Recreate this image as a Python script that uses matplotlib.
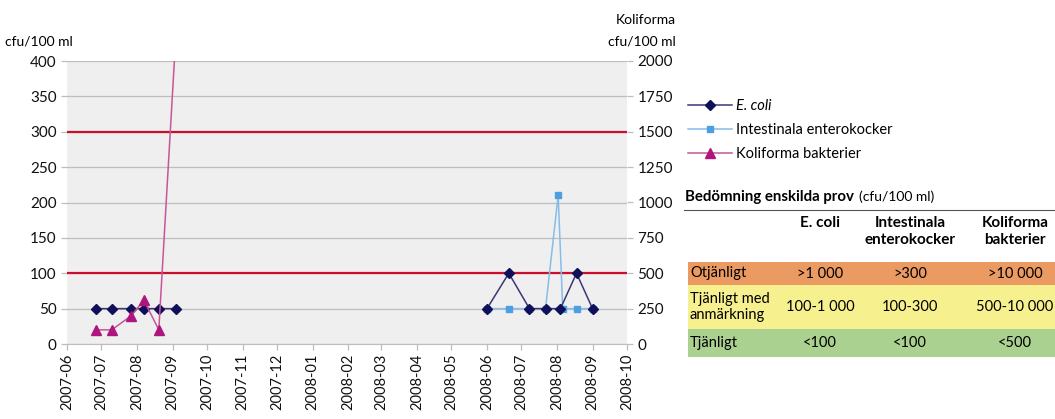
import datetime as dt
import numpy as np
import matplotlib
matplotlib.use("Agg")
from matplotlib import pyplot as plt
import matplotlib.dates as mdates
from matplotlib.patches import Rectangle
from matplotlib.text import Annotation

plt.rcParams['font.family'] = ['Lato', 'DejaVu Sans']

nan = float("nan")

# E. coli (left axis, cfu/100 ml); nan = no samples over the winter, breaks the line
ecoli_dates = ["2007-06-26", "2007-07-10", "2007-07-27", "2007-08-07", "2007-08-20", "2007-09-04",
               "2008-01-01",
               "2008-06-01", "2008-06-20", "2008-07-08", "2008-07-22", "2008-08-04", "2008-08-18", "2008-09-01"]
ecoli_vals = [50, 50, 50, 50, 50, 50,
              nan,
              50, 100, 50, 50, 50, 100, 50]

# Intestinala enterokocker (left axis)
ente_dates = ["2008-06-01", "2008-06-20", "2008-07-08", "2008-07-22", "2008-08-02", "2008-08-06",
              "2008-08-18", "2008-09-01"]
ente_vals = [50, 50, 50, 50, 210, 50, 50, 50]

# Koliforma bakterier (right axis)
koli_dates = ["2007-06-26", "2007-07-10", "2007-07-27", "2007-08-07", "2007-08-20", "2007-09-04"]
koli_vals = [100, 100, 200, 310, 100, 2200]

# limit lines (left axis)
limits = [100, 300]

# table
table_cols = ["E. coli", "Intestinala\nenterokocker", "Koliforma\nbakterier"]
table_rows = ["Otjänligt", "Tjänligt med\nanmärkning", "Tjänligt"]
table_vals = [[">1 000", ">300", ">10 000"],
              ["100-1 000", "100-300", "500-10 000"],
              ["<100", "<100", "<500"]]
row_colors = ["#EB9A62", "#F7F08E", "#AAD18F"]


def to_dates(lst):
    return [dt.datetime.strptime(s, "%Y-%m-%d") for s in lst]


W, H = 1055, 419
fig = plt.figure(figsize=(W / 100, H / 100), dpi=100)
ax = fig.add_axes([67 / W, 1 - 344 / H, 560 / W, 283 / H])
ax2 = ax.twinx()

ax.set_facecolor("#EFEFEF")
grey = "#BEBEBE"

for lim in limits:
    ax.axhline(lim, color="#C8102E", lw=1.6, zorder=2)

l1, = ax.plot(to_dates(ecoli_dates), ecoli_vals, color="#3D3578", lw=1.1, marker="D",
              ms=5, mfc="#10105A", mec="#10105A", zorder=4, label="E. coli")
l2, = ax.plot(to_dates(ente_dates), ente_vals, color="#86BDEB", lw=1.1, marker="s",
              ms=5, mfc="#4C9FE0", mec="#4C9FE0", zorder=3, label="Intestinala enterokocker")
l3, = ax2.plot(to_dates(koli_dates), koli_vals, color="#C85598", lw=1.1, marker="^",
               ms=7, mfc="#B0157E", mec="#B0157E", zorder=3, label="Koliforma bakterier")

ax.set_xlim(dt.datetime(2007, 6, 1), dt.datetime(2008, 10, 1))
ax.set_ylim(0, 400)
ax2.set_ylim(0, 2000)
ax.set_yticks(np.arange(0, 401, 50))
ax2.set_yticks(np.arange(0, 2001, 250))
ax.yaxis.grid(True, color=grey, lw=0.9)
ax.set_axisbelow(True)

ax.xaxis.set_major_locator(mdates.MonthLocator())
ax.xaxis.set_major_formatter(mdates.DateFormatter("%Y-%m"))
for lab in ax.get_xticklabels():
    lab.set_rotation(90)

for a in (ax, ax2):
    for s in a.spines.values():
        s.set_visible(False)
    a.tick_params(colors=grey, labelcolor="#111111", labelsize=11, length=4, width=0.9)
ax.spines["bottom"].set_visible(True)
ax.spines["bottom"].set_color(grey)
ax.tick_params(axis="x", labelsize=10.5, pad=3)

fig.text(5 / W, 1 - 42 / H, "cfu/100 ml", fontsize=10, va="center", ha="left")
fig.text(676 / W, 1 - 20 / H, "Koliforma", fontsize=10, va="center", ha="right")
fig.text(676 / W, 1 - 42 / H, "cfu/100 ml", fontsize=10, va="center", ha="right")

leg = fig.legend(handles=[l1, l2, l3], loc="upper left", bbox_to_anchor=(682 / W, 1 - 93 / H),
                 frameon=False, fontsize=10.5, handlelength=3.0, handletextpad=0.3,
                 labelspacing=0.68, borderaxespad=0)
leg.get_texts()[0].set_style("italic")

# table on the right
title = fig.text(685 / W, 1 - 197 / H, "Bedömning enskilda prov", fontsize=10.8, weight="bold",
                 va="center", ha="left")
fig.add_artist(Annotation("(cfu/100 ml)", xy=(1, 0.5), xycoords=title, xytext=(4, 0),
                          textcoords="offset points", fontsize=10, va="center", ha="left"))
fig.add_artist(plt.Line2D([684 / W, 1], [1 - 210 / H, 1 - 210 / H], color="#555555", lw=0.8))

col_x = [820, 910, 1015]
for cx, name in zip(col_x, table_cols):
    fig.text(cx / W, 1 - 216 / H, name, fontsize=11, weight="bold", ha="center", va="top",
             linespacing=1.25)

row_edges = [262, 285, 329, 357]
for i, (rname, color) in enumerate(zip(table_rows, row_colors)):
    top, bot = row_edges[i], row_edges[i + 1]
    fig.add_artist(Rectangle((688 / W, 1 - bot / H), (W - 688) / W, (bot - top) / H,
                             transform=fig.transFigure, facecolor=color, edgecolor="none"))
    ymid = 1 - (top + bot) / 2 / H
    fig.text(690 / W, ymid, rname, fontsize=10.5, ha="left", va="center", linespacing=1.1)
    for cx, v in zip(col_x, table_vals[i]):
        fig.text(cx / W, ymid, v, fontsize=10.5, ha="center", va="center")

fig.savefig("out.png", dpi=100)
